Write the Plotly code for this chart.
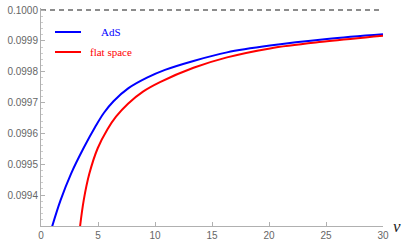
import plotly.graph_objects as go

# Data
nu_ads = [0.965, 1.711, 2.632, 3.772, 4.737, 5.526, 6.360, 7.675, 9.298, 10.877,
          13.377, 16.316, 20.088, 25.088, 30.0]
val_ads = [0.099297, 0.099383, 0.099469, 0.099555, 0.099620, 0.099667, 0.0997045,
           0.0997468, 0.0997808, 0.099806, 0.099835, 0.0998627, 0.0998847,
           0.0999058, 0.0999211]

nu_flat = [3.421, 3.746, 4.237, 4.974, 5.833, 6.579, 7.632, 8.947, 10.439, 13.377,
           16.316, 20.088, 25.088, 30.0]
val_flat = [0.099297, 0.099383, 0.099469, 0.099552, 0.0996136, 0.0996542, 0.0996964,
            0.0997354, 0.0997662, 0.0998127, 0.0998464, 0.0998756, 0.0998984, 0.0999166]

limit_nu = [0, 30]
limit_val = [0.1, 0.1]

y_ticks = [0.0994, 0.0995, 0.0996, 0.0997, 0.0998, 0.0999, 0.1000]
y_tick_text = ["0.0994", "0.0995", "0.0996", "0.0997", "0.0998", "0.0999", "0.1000"]
x_ticks = [0, 5, 10, 15, 20, 25, 30]

fig = go.Figure()
fig.add_trace(go.Scatter(x=limit_nu, y=limit_val, mode="lines",
                         line=dict(color="#8c8c8c", width=2, dash="5px,4px"),
                         showlegend=False, hoverinfo="skip"))
fig.add_trace(go.Scatter(x=nu_ads, y=val_ads, mode="lines", line_shape="spline",
                         line=dict(color="#0000ff", width=2), showlegend=False))
fig.add_trace(go.Scatter(x=nu_flat, y=val_flat, mode="lines", line_shape="spline",
                         line=dict(color="#ff0000", width=2), showlegend=False))

tick_font = dict(family="Liberation Sans, Arial, sans-serif", size=10, color="#666666")

fig.update_layout(
    width=406, height=245,
    margin=dict(l=41, r=23, t=8, b=19, autoexpand=False),
    paper_bgcolor="white", plot_bgcolor="white",
    xaxis=dict(range=[0, 30], tickvals=x_ticks, ticks="inside", ticklen=4,
               tickcolor="#b0b0b0", showgrid=False, zeroline=False, automargin=False,
               showline=True, linecolor="#b0b0b0", linewidth=1,
               tickfont=tick_font),
    yaxis=dict(range=[0.0993, 0.1000065], tickvals=y_ticks, ticktext=y_tick_text,
               ticks="inside", ticklen=4, tickcolor="#b0b0b0", showgrid=False,
               zeroline=False, showline=True, linecolor="#b0b0b0", linewidth=1,
               tickfont=tick_font, automargin=False,
               minor=dict(ticks="inside", ticklen=2, dtick=0.00002, tickcolor="#cccccc")),
    showlegend=False,
)

# legend drawn manually (centered text like the reference)
fig.add_shape(type="line", xref="paper", yref="paper", x0=14 / 342, x1=40 / 342,
              y0=(226 - 32) / 218, y1=(226 - 32) / 218, line=dict(color="#0000ff", width=2))
fig.add_shape(type="line", xref="paper", yref="paper", x0=14 / 342, x1=40 / 342,
              y0=(226 - 52) / 218, y1=(226 - 52) / 218, line=dict(color="#ff0000", width=2))
fig.add_annotation(xref="paper", yref="paper", x=70 / 342, y=(226 - 32) / 218, text="AdS",
                   showarrow=False, xanchor="center", yanchor="middle",
                   font=dict(family="Liberation Serif, Times New Roman, serif", size=11, color="#0000ff"))
fig.add_annotation(xref="paper", yref="paper", x=70 / 342, y=(226 - 52) / 218, text="flat space",
                   showarrow=False, xanchor="center", yanchor="middle",
                   font=dict(family="Liberation Serif, Times New Roman, serif", size=11, color="#ff0000"))
fig.add_annotation(xref="paper", yref="paper", x=1 + 14 / 342, y=0, text="<i>ν</i>",
                   showarrow=False, xanchor="center", yanchor="middle", borderpad=0,
                   font=dict(family="Liberation Serif, Times New Roman, serif", size=17,
                             color="#222222"))

fig.write_html("out.html", config={"displayModeBar": False},
               post_script="document.body.style.margin='0';document.body.style.overflow='hidden';")
